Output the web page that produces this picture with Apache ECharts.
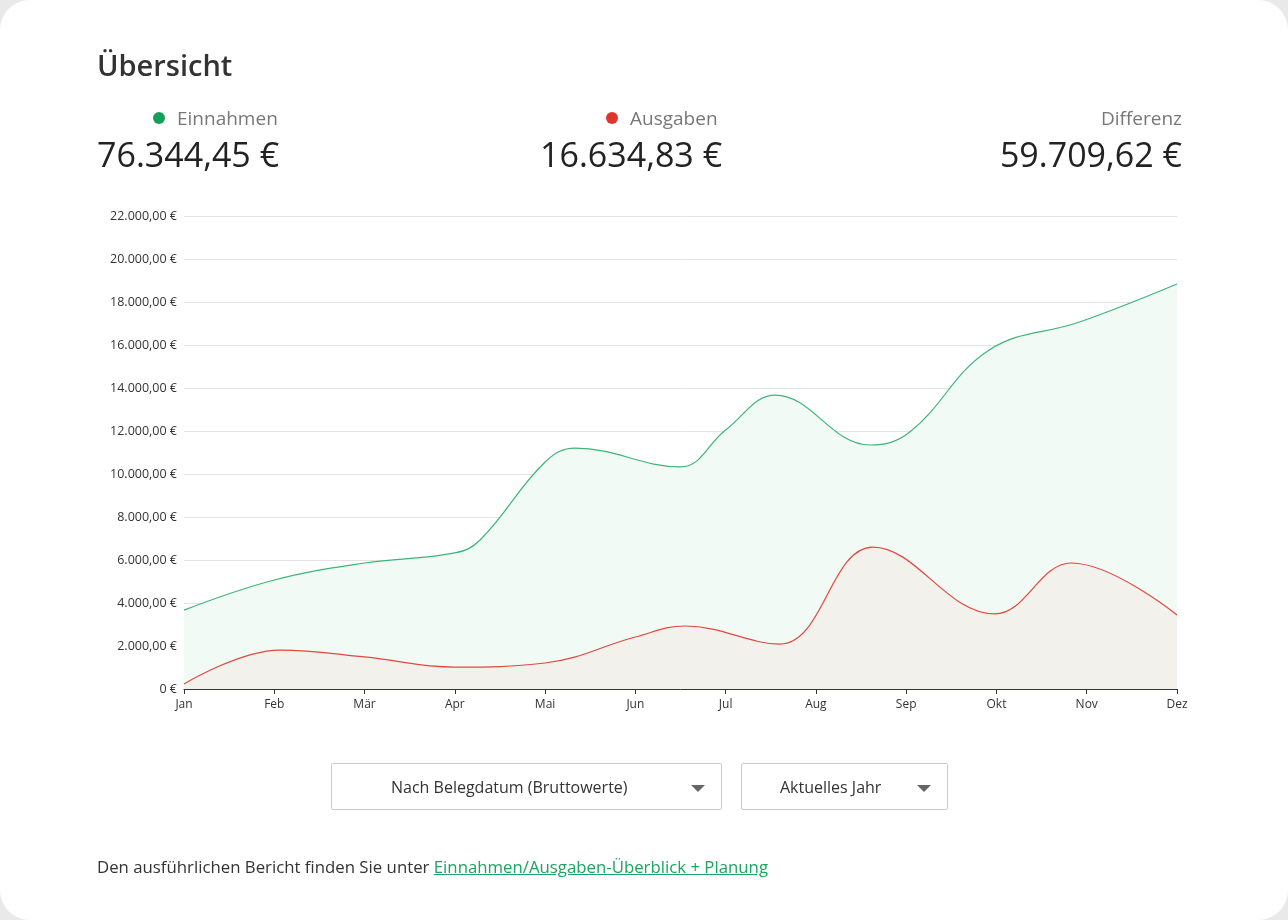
<!DOCTYPE html>
<html lang="de">
<head>
<meta charset="UTF-8">
<title>Übersicht</title>
<script src="https://cdn.jsdelivr.net/npm/echarts@6/dist/echarts.min.js"></script>
<style>
  html,body{margin:0;padding:0;width:1288px;height:920px;background:#e9e9e9;font-family:"Open Sans","Noto Sans",sans-serif;color:#333;}
  #card{position:absolute;left:0;top:0;width:1288px;height:920px;background:#fff;border-radius:30px;overflow:hidden;}
  #main{position:absolute;left:0;top:0;width:1288px;height:920px;}
  .abs{position:absolute;}
  h1{position:absolute;left:97px;top:45px;margin:0;font-size:29px;font-weight:600;color:#333;}
  .lbl{font-size:19px;color:#777;}
  .num{font-size:34px;color:#222;}
  .dot{display:inline-block;width:12px;height:12px;border-radius:50%;margin-right:12px;vertical-align:1px;}
  .sel{position:absolute;top:763px;height:47px;border:1px solid #ccc;border-radius:2px;font-size:16px;line-height:47px;box-sizing:border-box;}
  .caret{position:absolute;right:16px;top:21px;width:0;height:0;border-left:7px solid transparent;border-right:7px solid transparent;border-top:7px solid #666;}
  a{color:#1aa560;}
</style>
</head>
<body>
<div id="card">
  <div id="main"></div>
  <h1>Übersicht</h1>
  <div class="abs lbl" style="left:153px;top:105px;"><span class="dot" style="background:#13a05a"></span>Einnahmen</div>
  <div class="abs num" style="left:97px;top:131px;">76.344,45 €</div>
  <div class="abs lbl" style="left:606px;top:105px;"><span class="dot" style="background:#e0352b"></span>Ausgaben</div>
  <div class="abs num" style="left:540px;top:131px;">16.634,83 €</div>
  <div class="abs lbl" style="right:106px;top:105px;">Differenz</div>
  <div class="abs num" style="right:106px;top:131px;">59.709,62 €</div>
  <div class="sel" style="left:331px;width:391px;"><span style="position:absolute;left:59px;">Nach Belegdatum (Bruttowerte)</span><span class="caret"></span></div>
  <div class="sel" style="left:741px;width:207px;"><span style="position:absolute;left:38px;">Aktuelles Jahr</span><span class="caret"></span></div>
  <div class="abs" style="left:97px;top:855px;font-size:16.8px;">Den ausführlichen Bericht finden Sie unter <a href="#">Einnahmen/Ausgaben-Überblick + Planung</a></div>
</div>
<script>
  const months = ['Jan','Feb','Mär','Apr','Mai','Jun','Jul','Aug','Sep','Okt','Nov','Dez'];
  // [Monatsposition, Betrag]
  const einnahmen = [[0,3670],[1,5070],[2,5860],[3,6330],[3.28,6930],[4,10560],[4.33,11200],[5.5,10330],[6,12050],[6.55,13670],[7.6,11350],[8.04,11950],[8.92,15770],[9.92,17070],[11,18840]];
  const ausgaben = [[0,230],[1.06,1810],[2,1490],[3,1020],[4,1210],[5,2420],[5.55,2930],[6.6,2090],[7.63,6600],[8.98,3490],[9.83,5860],[11,3440]];

  const fmt = v => v === 0 ? '0 €' : v.toLocaleString('de-DE',{minimumFractionDigits:2,maximumFractionDigits:2}) + ' €';

  var myChart = echarts.init(document.getElementById('main'));
  myChart.setOption({
    animation: false,
    grid: {left:184, right:111, top:216, bottom:231},
    xAxis: {
      type:'value', min:0, max:11, interval:1,
      axisLine:{lineStyle:{color:'#333'}},
      axisTick:{show:true,length:5,lineStyle:{color:'#333'}},
      splitLine:{show:false},
      axisLabel:{color:'#333',fontSize:12,fontFamily:'Open Sans',margin:10,formatter:v => months[v]}
    },
    yAxis: {
      type:'value', min:0, max:22000, interval:2000,
      axisLine:{show:false}, axisTick:{show:false},
      splitLine:{lineStyle:{color:'#e3e3e3'}},
      axisLabel:{color:'#333',fontSize:12.5,fontFamily:'Open Sans',margin:7,formatter:fmt}
    },
    series: [
      {type:'line', data:einnahmen, smooth:0.4, symbol:'none',
       lineStyle:{color:'#3db57a',width:1.2}, areaStyle:{color:'#f1faf4',opacity:1}},
      {type:'line', data:ausgaben, smooth:0.4, symbol:'none',
       lineStyle:{color:'#e0493f',width:1.2}, areaStyle:{color:'#f3f1ec',opacity:1}}
    ]
  });
</script>
</body>
</html>
